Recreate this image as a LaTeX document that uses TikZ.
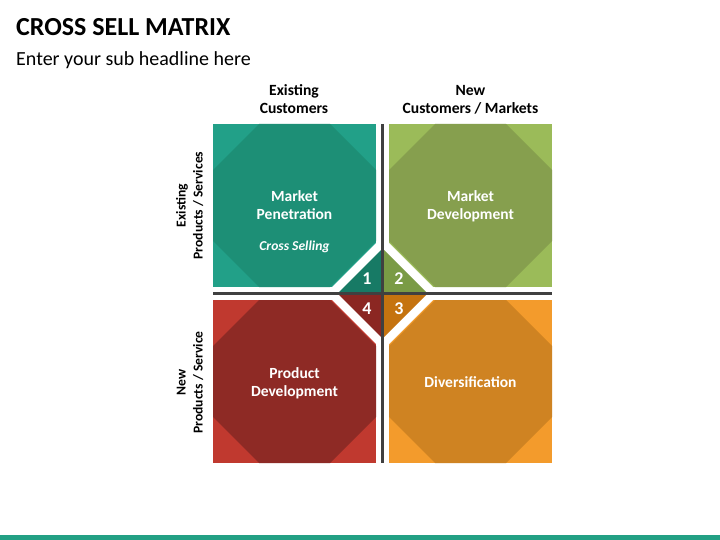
\documentclass[tikz,border=0pt]{standalone}
\usepackage{fontspec}
\setmainfont{Carlito}
\begin{document}
\begin{tikzpicture}[x=1pt,y=-1pt,
  hdr/.style={font=\fontsize{15.6}{18}\selectfont\bfseries, text=black, inner sep=0pt, anchor=base},
  side/.style={font=\fontsize{13.6}{16}\selectfont\bfseries, text=black, inner sep=0pt, anchor=base, rotate=90},
  qtxt/.style={font=\fontsize{15.5}{18}\selectfont\bfseries, text=white, inner sep=0pt, anchor=base},
  num/.style={font=\fontsize{18}{21}\selectfont\bfseries, text=white, inner sep=0pt},
  sep/.style={draw=sepgray, line width=3pt}]
\definecolor{sepgray}{HTML}{404040}
\definecolor{tlL}{HTML}{22A088}
\definecolor{tlD}{HTML}{1D8F76}
\definecolor{tlT}{HTML}{177A65}
\definecolor{trL}{HTML}{9BBB59}
\definecolor{trD}{HTML}{869F4E}
\definecolor{trT}{HTML}{7A9B45}
\definecolor{blL}{HTML}{C0392F}
\definecolor{blD}{HTML}{8E2A25}
\definecolor{blT}{HTML}{8B2722}
\definecolor{brL}{HTML}{F39B2C}
\definecolor{brD}{HTML}{CF8322}
\definecolor{brT}{HTML}{C5730F}
\definecolor{barteal}{HTML}{22A084}
\useasboundingbox (0,0) rectangle (720,540);
\fill[white] (0,0) rectangle (720,540);
% title
\node[anchor=base west, inner sep=0pt, font=\fontsize{26}{30}\selectfont\bfseries] (title) at (16,36) {CROSS SELL MATRIX};
\node[anchor=base west, inner sep=0pt, font=\fontsize{20}{24}\selectfont] (sub) at (16,65.5) {Enter your sub headline here};
% bottom bar
\fill[barteal] (0,535) rectangle (720,540);
% quadrants
\newcommand\quadbox[4]{%
  \fill[#3] (#1,#2) rectangle ++(163,163);
  \fill[#4] (#1+46,#2) -- (#1+117,#2) -- (#1+163,#2+46) -- (#1+163,#2+117)
     -- (#1+117,#2+163) -- (#1+46,#2+163) -- (#1,#2+117) -- (#1,#2+46) -- cycle;}
\quadbox{213}{124}{tlL}{tlD}
\quadbox{389}{124}{trL}{trD}
\quadbox{213}{300}{blL}{blD}
\quadbox{389}{300}{brL}{brD}
% central triangles with white bands
\fill[white] (381,292) -- (381,238) -- (327,292) -- cycle;
\fill[white] (384,292) -- (384,238) -- (438,292) -- cycle;
\fill[white] (381,295) -- (381,349) -- (327,295) -- cycle;
\fill[white] (384,295) -- (384,349) -- (438,295) -- cycle;
\fill[tlT] (381,292) -- (381,250) -- (339,292) -- cycle;
\fill[trT] (384,292) -- (384,250) -- (426,292) -- cycle;
\fill[blT] (381,295) -- (381,337) -- (339,295) -- cycle;
\fill[brT] (384,295) -- (384,337) -- (426,295) -- cycle;
% separators
\draw[sep] (382.5,124) -- (382.5,463);
\draw[sep] (213,293.5) -- (552,293.5);
% numbers
\node[num] (n1) at (367,279) {1};
\node[num] (n2) at (399,279) {2};
\node[num] (n3) at (399,309) {3};
\node[num] (n4) at (367,309) {4};
% quadrant texts
\node[qtxt] (mp1) at (294.5,201.5) {Market};
\node[qtxt] (mp2) at (294.5,220) {Penetration};
\node[font=\fontsize{13.6}{16}\selectfont\bfseries\itshape, text=white, inner sep=0pt, anchor=base] (cs) at (294.5,250.5) {Cross Selling};
\node[qtxt] (md1) at (470.5,201.5) {Market};
\node[qtxt] (md2) at (470.5,220) {Development};
\node[qtxt] (pd1) at (294.5,378) {Product};
\node[qtxt] (pd2) at (294.5,396.5) {Development};
\node[qtxt] (dv) at (470.5,387.5) {Diversification};
% headers
\node[hdr] (h1a) at (294,95.5) {Existing};
\node[hdr] (h1b) at (294,113.3) {Customers};
\node[hdr] (h2a) at (470.5,95.5) {New};
\node[hdr] (h2b) at (470.5,113.3) {Customers / Markets};
% side labels
\node[side] (s1a) at (185.5,205.5) {Existing};
\node[side] (s1b) at (202.5,205.5) {Products / Services};
\node[side] (s2a) at (185.5,382.5) {New};
\node[side] (s2b) at (202.5,382.5) {Products / Service};
\end{tikzpicture}
\end{document}
